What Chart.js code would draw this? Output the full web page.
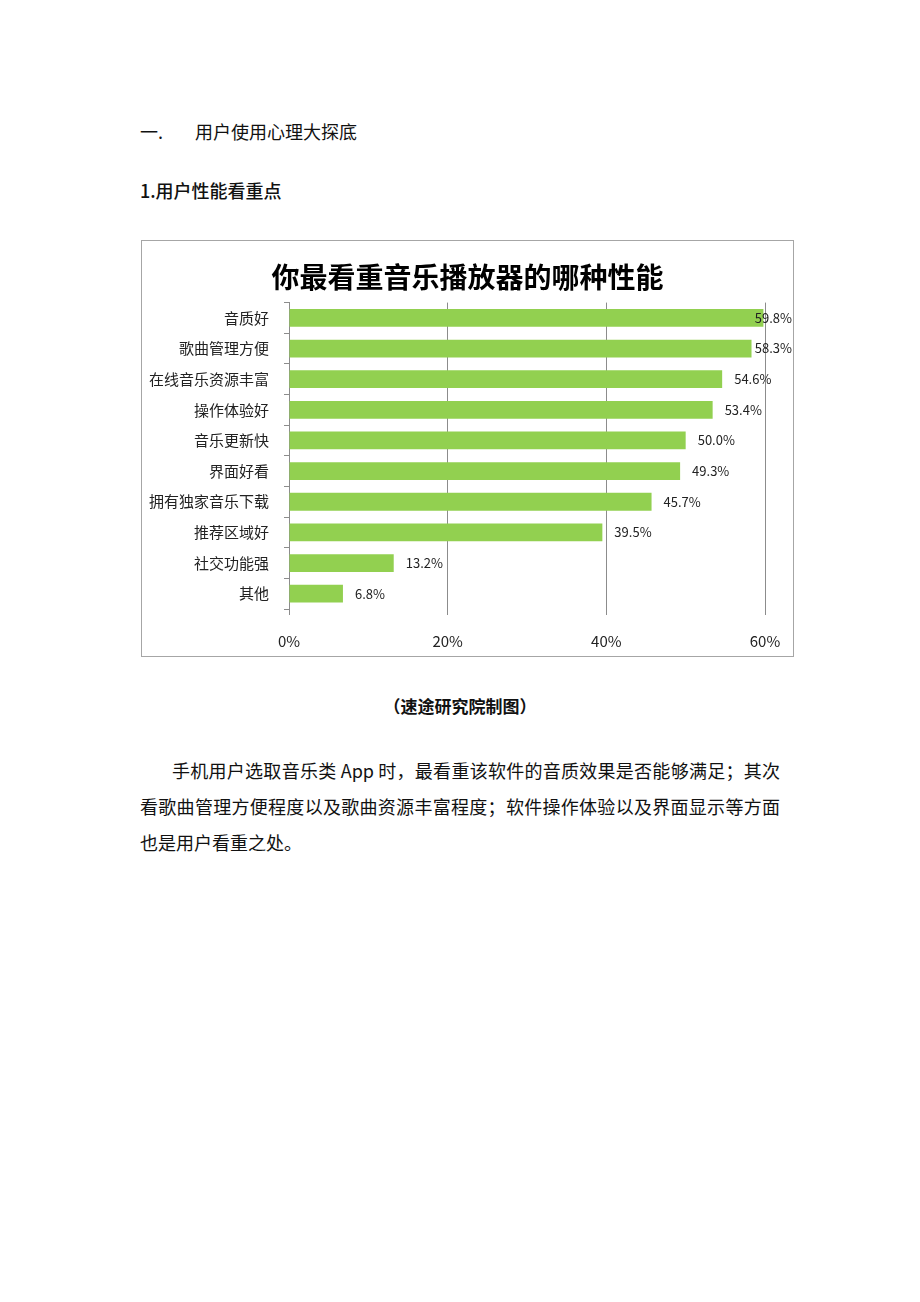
<!DOCTYPE html>
<html>
<head>
<meta charset="utf-8">
<script src="https://cdn.jsdelivr.net/npm/chart.js@4/dist/chart.umd.min.js"></script>
<style>
  body { margin: 0; background: #fff; width: 920px; height: 1302px; position: relative;
         font-family: "Noto Sans CJK SC", sans-serif; color: #111; }
  .t { position: absolute; white-space: nowrap; font-size: 18px; line-height: 24px; }
  #box { position: absolute; left: 141px; top: 240px; width: 653px; height: 417px;
         box-sizing: border-box; border: 1px solid #a6a6a6; }
  .line { position: absolute; left: 140px; width: 640px; font-size: 18px; line-height: 24px;
          text-align: justify; text-align-last: justify; white-space: nowrap; }
</style>
</head>
<body>
<div class="t" style="left:140px; top:119px;">一.</div>
<div class="t" style="left:195px; top:119px;">用户使用心理大探底</div>
<div class="t" style="left:140px; top:178px; font-weight:500;">1.用户性能看重点</div>

<div id="box"><canvas id="perfChart" width="651" height="415"></canvas></div>

<div class="t" style="left:140px; width:640px; text-align:center; top:694px; font-weight:bold; font-size:17px;">（速途研究院制图）</div>
<div class="line" style="top:758px; left:172px; width:608px;">手机用户选取音乐类 App 时，最看重该软件的音质效果是否能够满足；其次</div>
<div class="line" style="top:794px;">看歌曲管理方便程度以及歌曲资源丰富程度；软件操作体验以及界面显示等方面</div>
<div class="line" style="top:830px; text-align-last:left;">也是用户看重之处。</div>

<script>
// data
const features = ['音质好', '歌曲管理方便', '在线音乐资源丰富', '操作体验好', '音乐更新快',
                  '界面好看', '拥有独家音乐下载', '推荐区域好', '社交功能强', '其他'];
const shares = [59.8, 58.3, 54.6, 53.4, 50.0, 49.3, 45.7, 39.5, 13.2, 6.8];
const xTicks = [0, 20, 40, 60];

const font = '"Noto Sans CJK SC", sans-serif';

// value labels at the end of each bar, kept inside the box
const barLabels = {
    id: 'barLabels',
    afterDatasetsDraw(chart) {
        const ctx = chart.ctx;
        const meta = chart.getDatasetMeta(0);
        ctx.save();
        ctx.font = '13px ' + font;
        ctx.fillStyle = '#222';
        ctx.textBaseline = 'middle';
        meta.data.forEach((bar, i) => {
            const txt = shares[i].toFixed(1) + '%';
            const w = ctx.measureText(txt).width;
            const x = Math.min(bar.x + 12, chart.width - 1 - w);
            ctx.fillText(txt, x, bar.y);
        });
        ctx.restore();
    }
};

const perfCtx = document.getElementById('perfChart').getContext('2d');
const perfChart = new Chart(perfCtx, {
    type: 'bar',
    data: {
        labels: features,
        datasets: [{
            data: shares,
            backgroundColor: '#92d050',
            borderWidth: 0,
            barPercentage: 0.58,
            categoryPercentage: 1
        }]
    },
    options: {
        indexAxis: 'y',
        responsive: false,
        animation: false,
        layout: { padding: 0 },
        plugins: {
            legend: { display: false },
            tooltip: { enabled: false },
            title: {
                display: true,
                text: '你最看重音乐播放器的哪种性能',
                color: '#000',
                font: { family: font, size: 28, weight: 'bold', lineHeight: 1.2 },
                padding: { top: 20, bottom: 8 }
            }
        },
        scales: {
            x: {
                min: 0,
                max: 60,
                afterBuildTicks(scale) { scale.ticks = xTicks.map(v => ({ value: v })); },
                afterFit(scale) { scale.height = 47; scale.paddingLeft = 0; scale.paddingRight = 28; },
                grid: { color: '#8c8c8c', lineWidth: 1, tickLength: 6 },
                border: { display: false },
                ticks: {
                    callback: v => v + '%',
                    color: '#222',
                    padding: 17,
                    font: { family: font, size: 15 }
                }
            },
            y: {
                afterFit(scale) { scale.width = 147; },
                grid: { drawOnChartArea: false, color: '#8c8c8c', tickLength: 5 },
                border: { display: true, color: '#8c8c8c' },
                ticks: {
                    color: '#222',
                    padding: 15,
                    font: { family: font, size: 15 }
                }
            }
        }
    },
    plugins: [barLabels]
});
</script>
</body>
</html>
